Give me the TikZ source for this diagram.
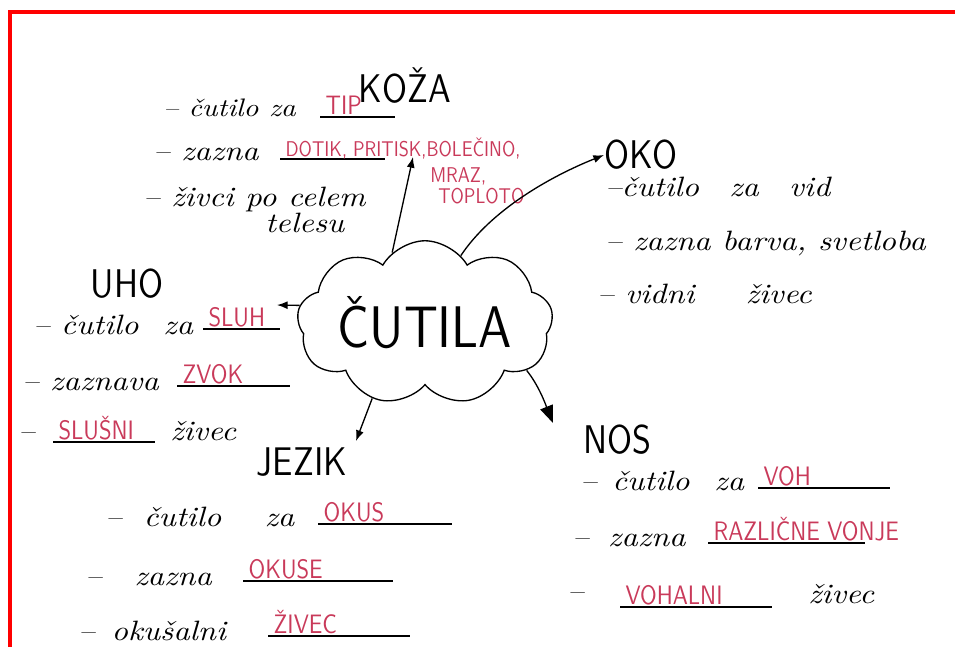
\documentclass[tikz,border=0pt]{standalone}
\usepackage{fontspec}
\usepackage{tikz}
\usetikzlibrary{arrows.meta,shapes.symbols}
\newfontfamily\printfont{lmsans10-regular.otf}[FakeStretch=0.85]
\newfontfamily\cursfont{lmroman10-italic.otf}[FakeStretch=1.15]
\definecolor{penred}{HTML}{C93A5A}
\definecolor{markred}{HTML}{FF0000}
% underlined answer: width in px, then the text
\newcommand{\blank}[2]{\rlap{\color{black}\rule[-3pt]{\dimexpr #1pt*3/4\relax}{1.2pt}}\hspace{4pt}#2}

\begin{document}
\begin{tikzpicture}[
  x=0.75pt, y=-0.75pt,
  hand/.style={font=\cursfont\fontsize{21}{25}\selectfont, inner sep=0pt, anchor=base west},
  ans/.style={font=\printfont\fontsize{20}{24}\selectfont, text=penred, inner sep=0pt, anchor=base west},
  small/.style={ans, font=\printfont\fontsize{16}{19}\selectfont},
  title/.style={font=\printfont\fontsize{30}{34}\selectfont, inner sep=0pt},
  ar/.style={-{Latex[length=8pt,width=6pt]}, line width=1pt},
]
\useasboundingbox (0,0) rectangle (955,647);
\draw[markred, line width=2.4pt] (10,647) -- (10,12) -- (955,12);

% centre
\node[cloud, cloud puffs=9, cloud puff arc=120, aspect=2, draw, line width=1pt,
      minimum width=174pt, minimum height=88pt, inner sep=0pt,
      font=\printfont\fontsize{44}{48}\selectfont] (cut) at (425,323) {ČUTILA};

% koža
\node[title] (koza) at (405,86) {KOŽA};
\foreach \n/\x/\y/\txt in {k1/163/116/{\fontsize{19}{22}\selectfont – čutilo za}, k2/153/160/{– zazna},
  k3/143/206/{– živci po celem}, k4/265/232/telesu}
  \node[hand] (\n) at (\x,\y) {\txt};
\node[ans] (k1a) at (320,114) {\blank{75}{TIP}};
\node[small] (k2a) at (280,156) {\blank{105}{DOTIK, PRITISK,BOLEČINO,}};
\node[small] (k2b) at (430,182) {MRAZ,};
\node[small] (k2c) at (438,203) {TOPLOTO};

% oko
\node[title, anchor=west] (oko) at (604,155) {OKO};
\foreach \n/\x/\y/\txt in {o1/605/196/{–čutilo\hspace{14pt} za\hspace{14pt} vid},
  o2/605/250/{– zazna barva, svetloba}, o3/597/303/{– vidni\hspace{30pt} živec}}
  \node[hand] (\n) at (\x,\y) {\txt};

% uho
\node[title] (uho) at (127,284) {UHO};
\foreach \n/\x/\y/\txt in {u1/33/334/{– čutilo\hspace{10pt} za}, u2/22/390/{– zaznava},
  u3/18/440/{–}, u4/170/440/živec}
  \node[hand] (\n) at (\x,\y) {\txt};

% jezik
\node[title] (jezik) at (302,462) {JEZIK};
\foreach \n/\x/\y/\txt in {j1/105/526/{–\hspace{8pt} čutilo\hspace{24pt} za},
  j2/85/585/{–\hspace{16pt} zazna}, j3/78/640/{–\hspace{4pt} okušalni}}
  \node[hand] (\n) at (\x,\y) {\txt};

% nos
\node[title, anchor=west] (nos) at (583,440) {NOS};
\foreach \n/\x/\y/\txt in {n1/580/490/{–\hspace{3pt} čutilo\hspace{10pt} za},
  n2/572/546/{–\hspace{6pt} zazna}, n3/567/600/{–}, n4/808/603/živec}
  \node[hand] (\n) at (\x,\y) {\txt};

% answers
\foreach \n/\x/\y/\w/\txt in {u1a/203/326/77/SLUH, u2a/177/383/113/ZVOK,
  u3a/53/439/102/SLUŠNI, j1a/318/521/134/OKUS, j2a/243/578/150/OKUSE,
  j3a/268/633/142/ŽIVEC, n1a/758/485/132/VOH, n3a/620/604/152/VOHALNI}
  \node[ans] (\n) at (\x,\y) {\blank{\w}{\txt}};
\node[ans] (n2a) at (708,540) {\blank{157}{RAZLIČNE VONJE}};

% arrows
\coordinate (kt) at (413,157);
\coordinate (ut) at (277,305);
\coordinate (jt) at (356,441);
\coordinate (nt) at (553,423);
\draw[ar] (cut.115) -- (kt);
\draw[ar] (cut.62) .. controls +(30,-45) and +(-55,22) .. (oko.west);
\draw[ar] (cut.172) -- (ut);
\draw[ar] (cut.235) -- (jt);
\draw[ar, -{Triangle[length=13pt,width=10pt]}] (cut.335) .. controls +(12,15) and +(-8,-20) .. (nt);
\end{tikzpicture}
\end{document}
